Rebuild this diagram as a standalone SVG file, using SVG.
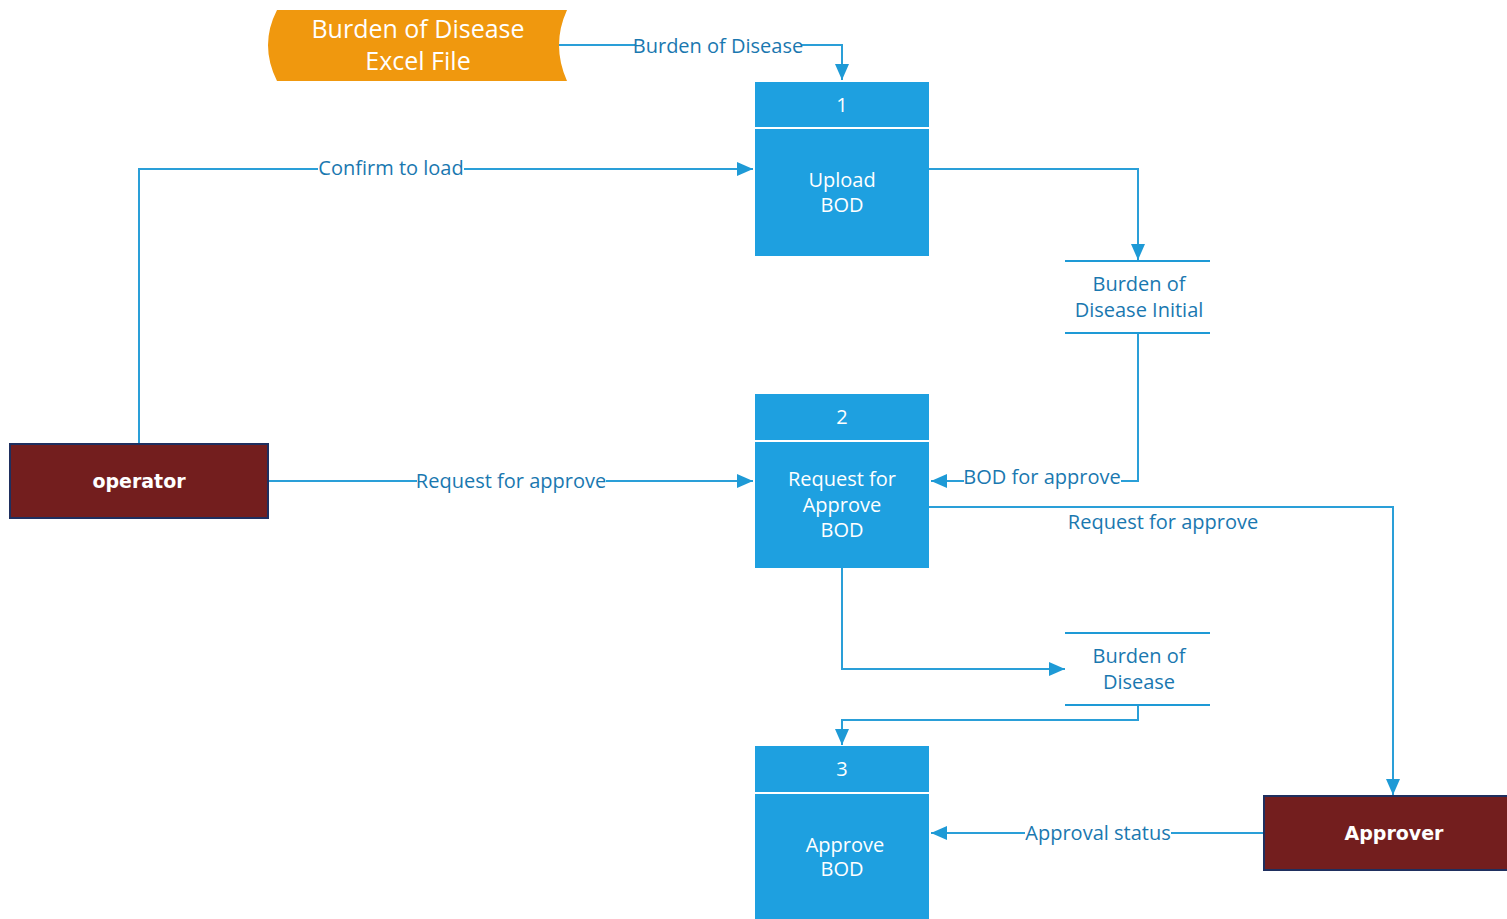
<svg xmlns="http://www.w3.org/2000/svg" width="1507" height="919" viewBox="0 0 1507 919">
<defs>
<marker id="arr" markerWidth="16" markerHeight="14" refX="16" refY="7" orient="auto" markerUnits="userSpaceOnUse">
<path d="M0,0 L16,7 L0,14 Z" fill="#1E9AD6"/>
</marker>
<style>
.ln{fill:none;stroke:#2A9FD8;stroke-width:2}
.lbl{font-family:"Open Sans","Noto Sans",sans-serif;font-size:20px;fill:#1A78B0;text-anchor:middle;dominant-baseline:central}
.bg{fill:#FFFFFF}
.proc{fill:#1EA0E0}
.sep{stroke:#FFFFFF;stroke-width:2}
.pt{font-family:"Open Sans","Noto Sans",sans-serif;font-size:20px;fill:#FFFFFF;text-anchor:middle;dominant-baseline:central}
.store{stroke:#1E9AD6;stroke-width:2}
.st{font-family:"Open Sans","Noto Sans",sans-serif;font-size:20px;fill:#1A78B0;text-anchor:middle;dominant-baseline:central}
.ext{fill:#731E1E;stroke:#1F2F5F;stroke-width:2}
.et{font-family:"DejaVu Sans",Verdana,sans-serif;font-size:19px;font-weight:bold;fill:#FFFFFF;text-anchor:middle;dominant-baseline:central}
</style>
</defs>
<rect width="1507" height="919" fill="#FFFFFF"/>

<g id="connectors">
<path class="ln" d="M558,45 H842 V80" marker-end="url(#arr)"/>
<rect class="bg" x="635" y="34" width="166" height="22"/>
<text class="lbl" x="718" y="45">Burden of Disease</text>

<path class="ln" d="M139,444 V169 H753" marker-end="url(#arr)"/>
<rect class="bg" x="318" y="157" width="146" height="22"/>
<text class="lbl" x="391" y="167">Confirm to load</text>

<path class="ln" d="M929,169 H1138 V260" marker-end="url(#arr)"/>

<path class="ln" d="M1138,333 V481 H931" marker-end="url(#arr)"/>
<rect class="bg" x="964" y="466" width="157" height="22"/>
<text class="lbl" x="1042" y="476">BOD for approve</text>

<path class="ln" d="M268,481 H753" marker-end="url(#arr)"/>
<rect class="bg" x="417" y="470" width="189" height="22"/>
<text class="lbl" x="511" y="480">Request for approve</text>

<path class="ln" d="M929,507 H1393 V795" marker-end="url(#arr)"/>
<text class="lbl" x="1163" y="521">Request for approve</text>

<path class="ln" d="M842,568 V669 H1065" marker-end="url(#arr)"/>

<path class="ln" d="M1138,705 V720 H842 V745" marker-end="url(#arr)"/>

<path class="ln" d="M1264,833 H931" marker-end="url(#arr)"/>
<rect class="bg" x="1025" y="822" width="146" height="22"/>
<text class="lbl" x="1098" y="832">Approval status</text>
</g>

<g id="excel-file">
<path d="M277,10 L567,10 Q551,45 567,81 L277,81 Q259,45 277,10 Z" fill="#F0980E"/>
<text class="pt" x="418" y="28" style="font-size:25px">Burden of Disease</text>
<text class="pt" x="418" y="60" style="font-size:25px">Excel File</text>
</g>

<g id="process-1">
<rect class="proc" x="755" y="82" width="174" height="174"/>
<line class="sep" x1="755" y1="128" x2="929" y2="128"/>
<text class="pt" x="842" y="104">1</text>
<text class="pt" x="842" y="179">Upload</text>
<text class="pt" x="842" y="204">BOD</text>
</g>

<g id="process-2">
<rect class="proc" x="755" y="394" width="174" height="174"/>
<line class="sep" x1="755" y1="441" x2="929" y2="441"/>
<text class="pt" x="842" y="416">2</text>
<text class="pt" x="842" y="478">Request for</text>
<text class="pt" x="842" y="504">Approve</text>
<text class="pt" x="842" y="529">BOD</text>
</g>

<g id="process-3">
<rect class="proc" x="755" y="746" width="174" height="180"/>
<line class="sep" x1="755" y1="793" x2="929" y2="793"/>
<text class="pt" x="842" y="768">3</text>
<text class="pt" x="845" y="844">Approve</text>
<text class="pt" x="842" y="868">BOD</text>
</g>

<g id="store-initial">
<line class="store" x1="1065" y1="261" x2="1210" y2="261"/>
<line class="store" x1="1065" y1="333" x2="1210" y2="333"/>
<text class="st" x="1139" y="283">Burden of</text>
<text class="st" x="1139" y="309">Disease Initial</text>
</g>

<g id="store-bod">
<line class="store" x1="1065" y1="633" x2="1210" y2="633"/>
<line class="store" x1="1065" y1="705" x2="1210" y2="705"/>
<text class="st" x="1139" y="655">Burden of</text>
<text class="st" x="1139" y="681">Disease</text>
</g>

<g id="operator">
<rect class="ext" x="10" y="444" width="258" height="74"/>
<text class="et" x="139" y="481">operator</text>
</g>

<g id="approver">
<rect class="ext" x="1264" y="796" width="250" height="74"/>
<text class="et" x="1394" y="833">Approver</text>
</g>
</svg>
